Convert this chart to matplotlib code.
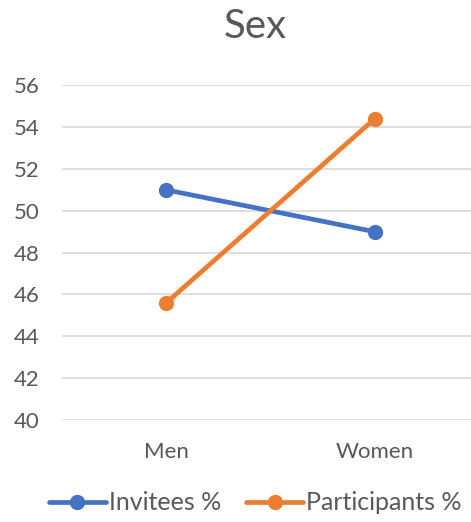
import matplotlib.pyplot as plt

categorias = ['Men', 'Women']
invitados = [51.0, 49.0]
participantes = [45.6, 54.4]
ticks_y = [40, 42, 44, 46, 48, 50, 52, 54, 56]

gris = '#595959'
plt.rcParams['font.family'] = ['Lato', 'DejaVu Sans']

fig = plt.figure(figsize=(4.71, 5.22), dpi=100)
ax = fig.add_axes([62 / 471, 1 - 420 / 522, 417 / 471, (420 - 85.3) / 522])

x = range(len(categorias))
ax.plot(x, invitados, color='#4472C4', linewidth=3.4, marker='o', markersize=10,
        label='Invitees %', solid_capstyle='round')
ax.plot(x, participantes, color='#ED7D31', linewidth=3.4, marker='o', markersize=10,
        label='Participants %', solid_capstyle='round')

ax.set_xlim(-0.5, 1.5)
ax.set_ylim(40, 56)
ax.set_yticks(ticks_y)
ax.set_xticks(list(x))
ax.set_xticklabels(categorias)
ax.grid(True, axis='y', color='#d9d9d9', linewidth=1.2)
ax.set_axisbelow(True)
for s in ax.spines.values():
    s.set_visible(False)
ax.tick_params(length=0, colors=gris, labelsize=16)
ax.tick_params(axis='y', pad=16)
ax.tick_params(axis='x', pad=16)

fig.text(255 / 471, 1 - 26 / 522, 'Sex', ha='center', va='center', fontsize=29, color=gris)

fig.legend(loc='center', bbox_to_anchor=(255 / 471, 1 - 503 / 522), ncol=2, frameon=False,
           fontsize=18, labelcolor=gris, handlelength=2.3, handletextpad=0.1, columnspacing=1.0)

plt.savefig('out.png', dpi=100)
